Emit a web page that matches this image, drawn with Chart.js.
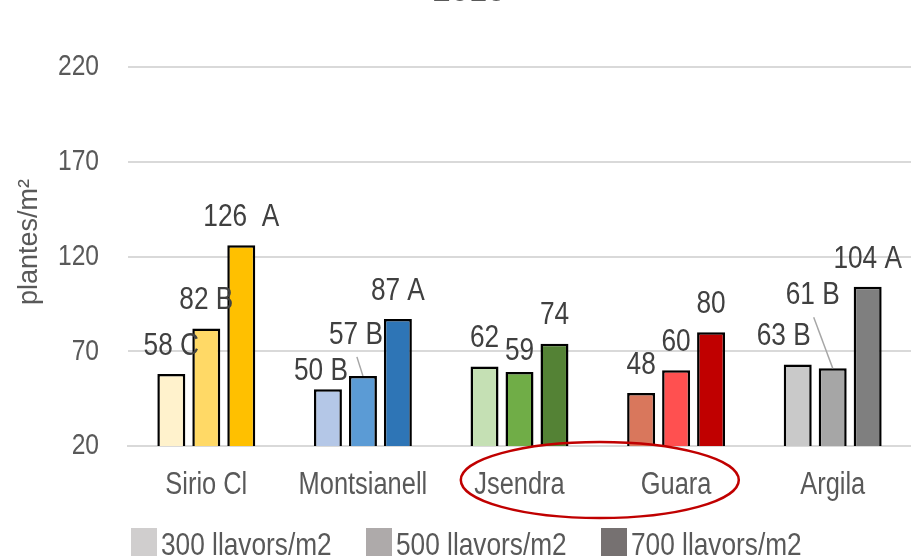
<!DOCTYPE html>
<html>
<head>
<meta charset="utf-8">
<script src="https://cdn.jsdelivr.net/npm/chart.js@4.4.0/dist/chart.umd.min.js"></script>
<style>
  html, body { margin: 0; padding: 0; background: #fff; overflow: hidden; }
  #wrap { width: 911px; height: 556px; position: relative; }
</style>
</head>
<body>
<div id="wrap"><canvas id="chart" width="911" height="556"></canvas></div>
<script>
// dades
const categories = ['Sirio Cl', 'Montsianell', 'Jsendra', 'Guara', 'Argila'];
const seriesNames = ['300 llavors/m2', '500 llavors/m2', '700 llavors/m2'];
const values300 = [58, 50, 62, 48, 63];
const values500 = [82, 57, 59, 60, 61];
const values700 = [126, 87, 74, 80, 104];
const labels300 = ['58 C', '50 B', '62', '48', '63 B'];
const labels500 = ['82 B', '57 B', '59', '60', '61 B'];
const labels700 = ['126  A', '87 A', '74', '80', '104 A'];
const yTicks = [20, 70, 120, 170, 220];
const chartTitle = '2015';
const yTitle = 'plantes/m²';

// colors per barra (una llista per densitat)
const colors300 = ['#fff2cc', '#b4c7e7', '#c5e0b4', '#d9775c', '#c9c9c9'];
const colors500 = ['#ffd966', '#5b9bd5', '#70ad47', '#ff5050', '#a6a6a6'];
const colors700 = ['#ffc000', '#2e75b6', '#548235', '#c00000', '#7f7f7f'];
const legendColors = ['#d0cece', '#aeaaaa', '#767171'];

// desplaçaments d'etiquetes [dx, dy, línia guia]
const labelNudges = {
  '0-1': [-7, 10, false],
  '1-1': [-7, -13, true],
  '1-2': [0, 7, false],
  '0-4': [-14, 0, false],
  '1-4': [-20, -45, true]
};

const FONT = "'Liberation Sans', Arial, sans-serif";
const SQUEEZE = 0.82; // imitem Arial Narrow
const allLabels = [labels300, labels500, labels700];

// text estret: escalem horitzontalment
function narrowText(ctx, text, x, y, align) {
  ctx.save();
  ctx.translate(x, y);
  ctx.scale(SQUEEZE, 1);
  ctx.textAlign = align;
  ctx.fillText(text, 0, 0);
  ctx.restore();
}

const decorPlugin = {
  id: 'decor',
  afterDatasetsDraw(chart) {
    const ctx = chart.ctx;
    ctx.save();
    ctx.font = '32px ' + FONT;
    ctx.fillStyle = '#404040';
    ctx.textBaseline = 'middle';
    chart.data.datasets.forEach((ds, di) => {
      const meta = chart.getDatasetMeta(di);
      meta.data.forEach((bar, i) => {
        const n = labelNudges[di + '-' + i] || [0, 0, false];
        const x = bar.x + n[0];
        const y = bar.y - 28 + n[1];
        narrowText(ctx, allLabels[di][i], x, y, 'center');
        if (n[2]) {
          ctx.strokeStyle = '#a6a6a6';
          ctx.lineWidth = 1.5;
          ctx.beginPath();
          ctx.moveTo(x + 1, y + 22);
          ctx.lineTo(bar.x, bar.y);
          ctx.stroke();
        }
      });
    });
    ctx.restore();
  },
  afterDraw(chart) {
    const ctx = chart.ctx;
    const area = chart.chartArea;
    const xs = chart.scales.x;
    const ys = chart.scales.y;
    ctx.save();
    ctx.fillStyle = '#595959';

    // marques de l'eix Y
    ctx.font = '30px ' + FONT;
    ctx.textBaseline = 'middle';
    yTicks.forEach(v => narrowText(ctx, String(v), area.left - 29, ys.getPixelForValue(v), 'right'));

    // categories
    ctx.font = '31px ' + FONT;
    categories.forEach((c, i) => narrowText(ctx, c, xs.getPixelForValue(i), area.bottom + 39, 'center'));

    // títol (tallat a dalt)
    ctx.font = '40px ' + FONT;
    ctx.textBaseline = 'alphabetic';
    narrowText(ctx, chartTitle, 469, 1, 'center');

    // títol eix Y
    ctx.save();
    ctx.translate(30, 242);
    ctx.rotate(-Math.PI / 2);
    ctx.font = '27px ' + FONT;
    ctx.textAlign = 'center';
    ctx.textBaseline = 'middle';
    ctx.fillText(yTitle, 0, 0);
    ctx.restore();

    // el·lipse vermella
    const cx = (xs.getPixelForValue(2) + xs.getPixelForValue(3)) / 2;
    ctx.strokeStyle = '#c00000';
    ctx.lineWidth = 2.5;
    ctx.beginPath();
    ctx.ellipse(cx + 2, area.bottom + 34, 139, 38, 0, 0, Math.PI * 2);
    ctx.stroke();

    // llegenda
    const lx = [131, 366, 601];
    ctx.font = '32px ' + FONT;
    seriesNames.forEach((name, i) => {
      ctx.fillStyle = legendColors[i];
      ctx.fillRect(lx[i], 528, 26, 40);
      ctx.fillStyle = '#595959';
      narrowText(ctx, name, lx[i] + 30, 555, 'left');
    });
    ctx.restore();
  }
};

new Chart(document.getElementById('chart'), {
  type: 'bar',
  data: {
    labels: categories,
    datasets: [
      { label: seriesNames[0], data: values300, backgroundColor: colors300 },
      { label: seriesNames[1], data: values500, backgroundColor: colors500 },
      { label: seriesNames[2], data: values700, backgroundColor: colors700 }
    ]
  },
  options: {
    responsive: false,
    animation: false,
    devicePixelRatio: 1,
    layout: { padding: { top: 67, left: 0, right: 0, bottom: 0 } },
    datasets: {
      bar: {
        borderColor: '#000',
        borderWidth: 2.5,
        categoryPercentage: 0.67,
        barPercentage: 0.8
      }
    },
    plugins: {
      legend: { display: false },
      title: { display: false },
      tooltip: { enabled: false }
    },
    scales: {
      x: {
        grid: { display: false, drawTicks: false },
        border: { display: true, color: '#d9d9d9', width: 2 },
        ticks: { display: false },
        afterFit: (s) => { s.height = 110; }
      },
      y: {
        min: 20,
        max: 220,
        afterBuildTicks: (s) => { s.ticks = yTicks.map(v => ({ value: v })); },
        grid: { color: '#d9d9d9', lineWidth: 2, drawTicks: false },
        border: { display: false },
        ticks: { display: false },
        afterFit: (s) => { s.width = 128; }
      }
    }
  },
  plugins: [decorPlugin]
});
</script>
</body>
</html>
